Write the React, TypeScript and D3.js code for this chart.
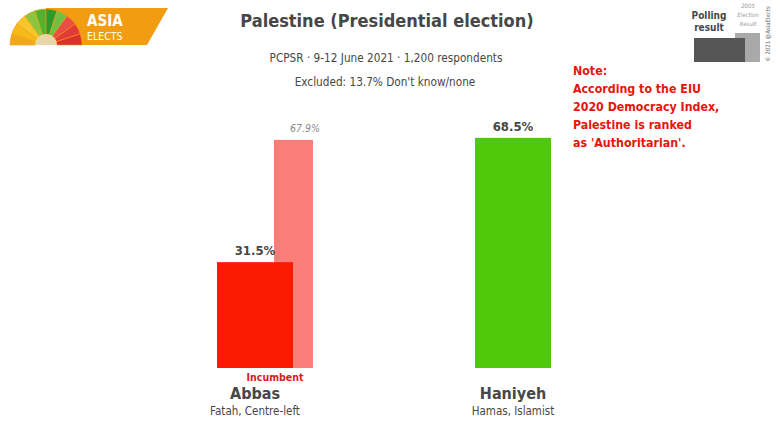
import React from "react";
import * as d3 from "d3";

const candidates = ["Abbas", "Haniyeh"];
const parties = ["Fatah, Centre-left", "Hamas, Islamist"];
const pollValues = [31.5, 68.5];
const prevValues: (number | null)[] = [67.9, null];
const barColors = ["#f91c02", "#4fca0b"];
const prevColors = ["#fb7c78", "#a6e58a"];
const incumbent = [true, false];
const noteLines = [
  "Note:",
  "According to the EIU",
  "2020 Democracy Index,",
  "Palestine is ranked",
  "as 'Authoritarian'.",
];
const logoColors = ["#f2a81d", "#f5b91a", "#f6c62a", "#8cc63f", "#55b030", "#2f9a2c", "#72c043", "#e94d43", "#e23a36", "#d9302d"];

const FONT = "'DejaVu Sans Condensed', 'DejaVu Sans', sans-serif";
const TXT = "#474747";

export default function App() {
  const W = 780, H = 432;
  const y = d3.scaleLinear().domain([0, 100]).range([368, 32]);
  const x = d3.scalePoint<string>().domain(candidates).range([255, 513]);
  const barW = 76;

  const fanArc = d3.arc<any>();
  const n = logoColors.length;
  const fanCx = 46, fanCy = 45, fanR = 36;

  return (
    <svg width={W} height={H} style={{ position: "absolute", left: 0, top: 0, background: "#fff" }} fontFamily={FONT}>
      {/* Logo */}
      <polygon points="46,8 168,8 147,45 46,45" fill="#f29c12" />
      {logoColors.map((c, i) => {
        const a0 = -Math.PI / 2 + (Math.PI * i) / n;
        const a1 = -Math.PI / 2 + (Math.PI * (i + 1)) / n;
        return (
          <path key={i} transform={`translate(${fanCx},${fanCy})`}
            d={fanArc({ innerRadius: 10, outerRadius: fanR, startAngle: a0, endAngle: a1 }) as string}
            fill={c} stroke="#f29c12" strokeWidth={0.6} />
        );
      })}
      <path transform={`translate(${fanCx},${fanCy})`}
        d={fanArc({ innerRadius: 0, outerRadius: 11, startAngle: -Math.PI / 2, endAngle: Math.PI / 2 }) as string}
        fill="#e9d6a6" />
      <text x={87} y={26} fill="#fff" fontSize={15} fontWeight="bold">ASIA</text>
      <text x={87} y={40} fill="#fff" fontSize={10.5}>ELECTS</text>

      {/* Title */}
      <text x={387} y={27} textAnchor="middle" fontSize={18} fontWeight="bold" fill={TXT}>
        Palestine (Presidential election)
      </text>
      <text x={386} y={62} textAnchor="middle" fontSize={11.7} fill={TXT}>
        PCPSR · 9-12 June 2021 · 1,200 respondents
      </text>
      <text x={385} y={86} textAnchor="middle" fontSize={11.7} fill={TXT}>
        Excluded: 13.7% Don't know/none
      </text>

      {/* Legend */}
      <rect x={735} y={33} width={25} height={29} fill="#a9a9a9" />
      <rect x={694} y={38} width={51} height={24} fill="#565656" />
      <text x={709} y={19} textAnchor="middle" fontSize={10} fontWeight="bold" fill={TXT}>Polling</text>
      <text x={709} y={31} textAnchor="middle" fontSize={10} fontWeight="bold" fill={TXT}>result</text>
      <text x={748} y={8} textAnchor="middle" fontSize={6} fontStyle="italic" fill="#999">2005</text>
      <text x={748} y={17} textAnchor="middle" fontSize={6} fontStyle="italic" fill="#999">Election</text>
      <text x={748} y={26} textAnchor="middle" fontSize={6} fontStyle="italic" fill="#999">Result</text>
      <text transform="translate(770,34) rotate(-90)" textAnchor="middle" fontSize={6} fill="#666">© 2021 @AsiaElects</text>

      {/* Note */}
      {noteLines.map((l, i) => (
        <text key={i} x={573} y={75 + i * 18} fontSize={12.3} fontWeight="bold" fill="#e8140c">{l}</text>
      ))}

      {/* Bars */}
      {candidates.map((c, i) => {
        const cx = x(c) as number;
        const pv = prevValues[i];
        return (
          <g key={c}>
            {pv != null && (
              <g>
                <rect x={cx + 19} y={y(pv)} width={barW / 2 + 1} height={y(0) - y(pv)} fill={prevColors[i]} />
                <text x={cx + 65} y={y(pv) - 8} textAnchor="end" fontSize={10.5} fontStyle="italic" fill="#8a8a8a">
                  {pv.toFixed(1)}%
                </text>
              </g>
            )}
            <rect x={cx - barW / 2} y={y(pollValues[i])} width={barW} height={y(0) - y(pollValues[i])} fill={barColors[i]} />
            <text x={cx} y={y(pollValues[i]) - 7} textAnchor="middle" fontSize={13} fontWeight="bold" fill={TXT}>
              {pollValues[i].toFixed(1)}%
            </text>
            {incumbent[i] && (
              <text x={cx + 20} y={381} textAnchor="middle" fontSize={10.5} fontWeight="bold" fill="#d8201a">Incumbent</text>
            )}
            <text x={cx} y={399} textAnchor="middle" fontSize={16} fontWeight="bold" fill={TXT}>{c}</text>
            <text x={cx} y={415} textAnchor="middle" fontSize={11.5} fill={TXT}>{parties[i]}</text>
          </g>
        );
      })}
    </svg>
  );
}
